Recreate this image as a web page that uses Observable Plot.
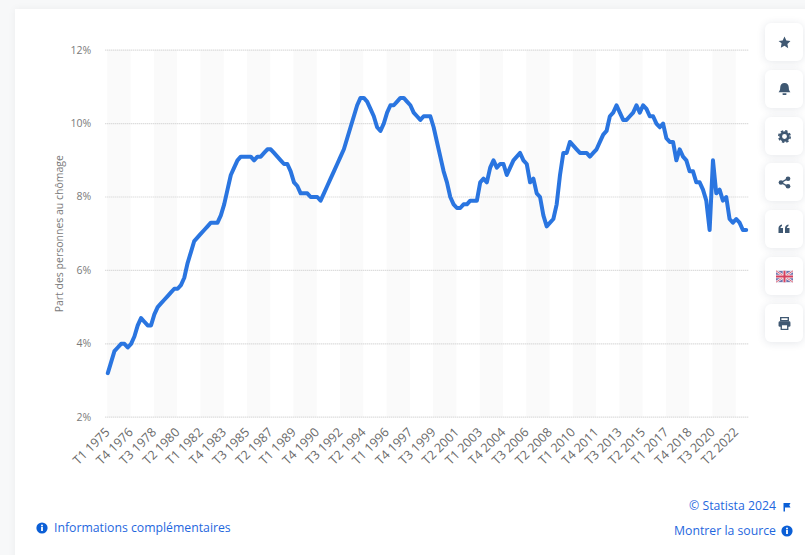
<!DOCTYPE html>
<html lang="fr">
<head>
<meta charset="utf-8">
<script src="https://cdn.jsdelivr.net/npm/d3@7"></script>
<script src="https://cdn.jsdelivr.net/npm/@observablehq/plot@0.6"></script>
<style>
html,body{margin:0;padding:0;width:805px;height:555px;overflow:hidden;background:#f7f8f9;font-family:"Open Sans",sans-serif}
#card{position:absolute;left:15px;top:9px;width:800px;height:560px;background:#fff;box-shadow:0 0 8px rgba(0,0,0,.05)}
#chart{position:absolute;left:0;top:0}
#chart svg{display:block;background:transparent}
.lnk{position:absolute;color:#1f67de;font-size:12.25px;line-height:18px;white-space:nowrap}
.ic{position:absolute}
.btn{position:absolute;left:765px;width:38px;height:38px;background:#fff;border-radius:6px;box-shadow:0 1px 8px rgba(30,50,80,.12);display:flex;align-items:center;justify-content:center}
</style>
</head>
<body>
<div id="card"></div>
<div id="chart"></div>

<div class="lnk" style="left:54px;top:519px">Informations complémentaires</div>
<svg class="ic" style="left:36px;top:522px" width="12" height="12" viewBox="0 0 12 12"><circle cx="6" cy="6" r="5.6" fill="#0b5fd6"/><rect x="5.1" y="5" width="1.8" height="4" fill="#fff"/><circle cx="6" cy="3.4" r="1" fill="#fff"/></svg>
<div class="lnk" style="right:29px;top:497px">© Statista 2024</div>
<svg class="ic" style="left:782px;top:502px" width="10" height="10" viewBox="0 0 10 10"><path d="M1.5 1h7l-1.2 2.2L8.5 5.6H3V9.5H1.5z" fill="#0b5fd6"/></svg>
<div class="lnk" style="right:29px;top:522px">Montrer la source</div>
<svg class="ic" style="left:781px;top:525px" width="12" height="12" viewBox="0 0 12 12"><circle cx="6" cy="6" r="5.6" fill="#0b5fd6"/><rect x="5.1" y="5" width="1.8" height="4" fill="#fff"/><circle cx="6" cy="3.4" r="1" fill="#fff"/></svg>

<div class="btn" style="top:23px"><svg width="13" height="13" viewBox="0 0 24 24"><path d="M12 1l3.4 7.2 7.6 1-5.6 5.4 1.4 7.9L12 18l-6.8 3.5 1.4-7.9L1 9.2l7.6-1z" fill="#3f5872"/></svg></div>
<div class="btn" style="top:70px"><svg width="13" height="14" viewBox="0 0 24 26"><path d="M12 2c5 0 8 3.6 8 8.500 0 4 1 6 3 8.500H1c2-2.500 3-4.500 3-8.500C4 5.600 7 2 12 2z" fill="#3f5872"/><rect x="8" y="21" width="8" height="3" rx="1.500" fill="#3f5872"/></svg></div>
<div class="btn" style="top:117px"><svg width="13" height="13" viewBox="0 0 24 24"><circle cx="12" cy="12" r="7" fill="none" stroke="#3f5872" stroke-width="5"/><circle cx="12" cy="12" r="10.500" fill="none" stroke="#3f5872" stroke-width="3" stroke-dasharray="4.500 3.750"/></svg></div>
<div class="btn" style="top:163px"><svg width="13" height="13" viewBox="0 0 24 24"><path d="M18 5L6 12l12 7" fill="none" stroke="#3f5872" stroke-width="2.500"/><circle cx="18.500" cy="5" r="4.300" fill="#3f5872"/><circle cx="5.500" cy="12" r="4.300" fill="#3f5872"/><circle cx="18.500" cy="19" r="4.300" fill="#3f5872"/></svg></div>
<div class="btn" style="top:210px"><svg width="12" height="10" viewBox="0 0 24 20"><path d="M1 9c0-4 2-7 7-8v3C6 5 5 6 5 8h5v10H1zM14 9c0-4 2-7 7-8v3c-2 1-3 2-3 4h5v10h-9z" fill="#3f5872"/></svg></div>
<div class="btn" style="top:257px"><svg width="17" height="13" viewBox="0 0 60 40"><rect width="60" height="40" fill="#6f74ad"/><path d="M0 0L60 40M60 0L0 40" stroke="#f6eef0" stroke-width="8"/><path d="M0 0L60 40M60 0L0 40" stroke="#d6506a" stroke-width="3"/><path d="M30 0V40M0 20H60" stroke="#f6eef0" stroke-width="13"/><path d="M30 0V40M0 20H60" stroke="#d6405f" stroke-width="7"/></svg></div>
<div class="btn" style="top:304px"><svg width="13" height="13" viewBox="0 0 24 24"><path d="M5 1h14v6H5z" fill="none" stroke="#3f5872" stroke-width="2.500"/><rect x="1" y="8" width="22" height="10" rx="2.500" fill="#3f5872"/><rect x="6" y="14" width="12" height="9" fill="#fff" stroke="#3f5872" stroke-width="2.500"/></svg></div>

<script>
const tickLabels = ["T1 1975","T4 1976","T3 1978","T2 1980","T1 1982","T4 1983","T3 1985","T2 1987","T1 1989","T4 1990","T3 1992","T2 1994","T1 1996","T4 1997","T3 1999","T2 2001","T1 2003","T4 2004","T3 2006","T2 2008","T1 2010","T4 2011","T3 2013","T2 2015","T1 2017","T4 2018","T3 2020","T2 2022"];
const quarterlyRate = [
 3.2,3.5,3.8,3.9,4.0,4.0,3.9,4.0,4.2,4.5,
 4.7,4.6,4.5,4.5,4.8,5.0,5.1,5.2,5.3,5.4,
 5.5,5.5,5.6,5.8,6.2,6.5,6.8,6.9,7.0,7.1,
 7.2,7.3,7.3,7.3,7.5,7.8,8.2,8.6,8.8,9.0,
 9.1,9.1,9.1,9.1,9.0,9.1,9.1,9.2,9.3,9.3,
 9.2,9.1,9.0,8.9,8.9,8.7,8.4,8.3,8.1,8.1,
 8.1,8.0,8.0,8.0,7.9,8.1,8.3,8.5,8.7,8.9,
 9.1,9.3,9.6,9.9,10.2,10.5,10.7,10.7,10.6,10.4,
 10.2,9.9,9.8,10.0,10.3,10.5,10.5,10.6,10.7,10.7,
 10.6,10.5,10.3,10.2,10.1,10.2,10.2,10.2,9.9,9.5,
 9.1,8.7,8.4,8.0,7.8,7.7,7.7,7.8,7.8,7.9,
 7.9,7.9,8.4,8.5,8.4,8.8,9.0,8.8,8.9,8.9,
 8.6,8.8,9.0,9.1,9.2,9.0,8.9,8.4,8.5,8.1,
 8.0,7.5,7.2,7.3,7.4,7.8,8.6,9.2,9.2,9.5,
 9.4,9.3,9.2,9.2,9.2,9.1,9.2,9.3,9.5,9.7,
 9.8,10.2,10.3,10.5,10.3,10.1,10.1,10.2,10.3,10.5,
 10.3,10.5,10.4,10.2,10.2,10.0,9.9,10.0,9.6,9.5,
 9.5,9.0,9.3,9.1,9.0,8.7,8.7,8.4,8.4,8.2,
 7.9,7.1,9.0,8.1,8.2,7.9,8.0,7.4,7.3,7.4,
 7.3,7.1,7.1
];
const yTicks = [2,4,6,8,10,12];
const yAxisLabel = "Part des personnes au chômage";

const tickEvery = 7;
const tickIndex = tickLabels.map((_, i) => i * tickEvery);
const labelAt = new Map(tickIndex.map((q, i) => [q, tickLabels[i]]));
const bands = tickIndex.filter((_, i) => i % 2 === 0).map(q => ({q1: q, q2: q + tickEvery}));
const rows = quarterlyRate.map((v, i) => ({q: i, v}));

const plot = Plot.plot({
  width: 805,
  height: 490,
  marginLeft: 107.3,
  marginRight: 59.3,
  marginTop: 49.7,
  marginBottom: 73.3,
  style: {background: "transparent", fontFamily: "'Open Sans',sans-serif"},
  x: {type: "linear", domain: [0, quarterlyRate.length - 1]},
  y: {domain: [2, 12]},
  marks: [
    Plot.rectY(bands, {x1: "q1", x2: "q2", y1: 2, y2: 12, fill: "#fafafa"}),
    Plot.ruleY(yTicks, {stroke: "#cfcfcf", strokeWidth: 1.2, strokeDasharray: "1 1", insetLeft: -2, insetRight: -2.500}),
    Plot.axisX({
      ticks: tickIndex, tickFormat: q => labelAt.get(q), tickRotate: -45, tickSize: 0, tickPadding: 13,
      fontSize: 12.5, color: "#6a6a6a", label: null
    }),
    Plot.axisY({
      ticks: yTicks, tickFormat: d => d + "%", tickSize: 0, tickPadding: 16.500,
      fontSize: 10.5, color: "#7a7a7a", label: yAxisLabel, labelAnchor: "center", labelArrow: "none", labelOffset: 52
    }),
    Plot.line(rows, {x: "q", y: "v", stroke: "#2a75e0", strokeWidth: 4, strokeLinejoin: "round", strokeLinecap: "round"})
  ]
});
document.getElementById("chart").appendChild(plot);
</script>
</body>
</html>
